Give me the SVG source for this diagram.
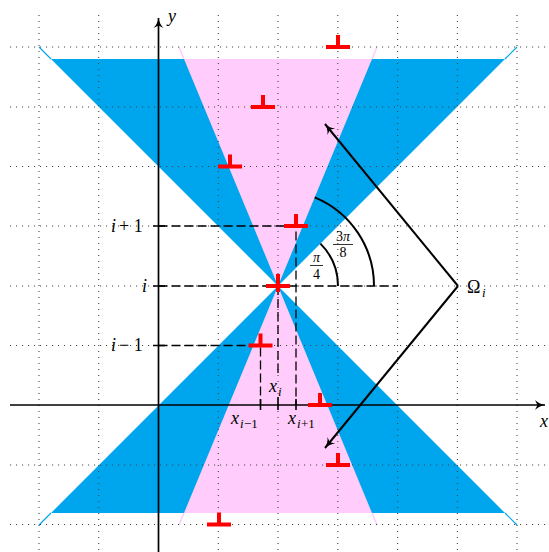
<svg xmlns="http://www.w3.org/2000/svg" width="549" height="552" viewBox="0 0 549 552">
<defs>
<style>
.grid{stroke:#444;stroke-width:1.1;stroke-dasharray:1.1 4.9;fill:none}
.axis{stroke:#000;stroke-width:1.7;fill:none}
.dash{stroke:#000;stroke-width:1.3;stroke-dasharray:9 4;fill:none}
.tick{stroke:#000;stroke-width:1.6}
.arc{stroke:#000;stroke-width:2;fill:none}
.om{stroke:#000;stroke-width:2;fill:none}
.m{font-family:"Liberation Serif",serif;font-style:italic;font-size:18px;fill:#000}
.r{font-family:"Liberation Serif",serif;font-size:18px;fill:#000}
.sub{font-size:13px}
.s{font-family:"Liberation Serif",serif;font-size:14px;fill:#000}
.blue{fill:#00a6ed}
.pink{fill:#ffccfb}
</style>
<marker id="ah" markerWidth="14" markerHeight="12" refX="10" refY="6" orient="auto" markerUnits="userSpaceOnUse">
<path d="M0,1 Q4,5 10,6 Q4,7 0,11 L2.5,6 Z" fill="#000"/>
</marker>
<g id="perp"><rect x="-12" y="-2" width="24" height="4" fill="#f00"/><rect x="-2" y="-12" width="4" height="12" fill="#f00"/></g>
</defs>

<g id="regions">
<path class="blue" d="M51,59 L505,59 L278,286 Z M51,513 L505,513 L278,286 Z"/>
<path d="M39,47 L51,59 M517,47 L505,59 M39,525 L51,513 M517,525 L505,513" stroke="#00a6ed" stroke-width="1.2"/>
<path class="pink" d="M184,59 L372,59 L278,286 Z M184,513 L372,513 L278,286 Z"/>
<path d="M179,47 L184,59 M377,47 L372,59 M179,525 L184,513 M377,525 L372,513" stroke="#ffccfb" stroke-width="1.5"/>
</g>

<g id="grid">
<path class="grid" d="M39,15 V552 M98.7,15 V552 M218.3,15 V552 M278,15 V552 M337.8,15 V552 M397.6,15 V552 M457.4,15 V552 M517,15 V552"/>
<path class="grid" d="M10,47 H549 M10,107 H549 M10,166.5 H549 M10,226 H549 M10,286 H549 M10,345.5 H549 M10,465 H549 M10,524.5 H549"/>
</g>

<g id="axes">
<line class="axis" x1="10" y1="405" x2="545" y2="405" marker-end="url(#ah)"/>
<line class="axis" x1="158.5" y1="552" x2="158.5" y2="18" marker-end="url(#ah)"/>
<text class="m" x="168" y="22">y</text>
<text class="m" x="540" y="427">x</text>
</g>

<g id="connectors">
<path class="dash" d="M158.5,226 H296 V405 M158.5,286 H398 M278,286 V377 M158.5,345.5 H260.5 V405"/>
<path class="tick" d="M153,226 H165 M153,286 H165 M153,345.5 H165 M260.5,399 V410 M278,397 V410 M296,399 V410"/>
<path class="arc" d="M320.4,243.6 A60,60 0 0 1 338,286"/>
<path class="arc" d="M314.7,197.3 A96,96 0 0 1 374,286"/>
<path class="om" d="M458,286 L325,124" marker-end="url(#ah)"/>
<path class="om" d="M458,286 L325,448" marker-end="url(#ah)"/>
</g>

<g id="labels">
<text class="m" x="111" y="232">i</text><text class="r" x="119" y="232">+ 1</text>
<text class="m" x="142" y="292">i</text>
<text class="m" x="111" y="351">i</text><text class="r" x="119" y="351">− 1</text>
<text class="m" x="231" y="424">x</text><text class="m sub" x="240" y="428">i</text><text class="r sub" x="244" y="428">−1</text>
<text class="m" x="269" y="392">x</text><text class="m sub" x="278" y="396">i</text>
<text class="m" x="288" y="424">x</text><text class="m sub" x="297" y="428">i</text><text class="r sub" x="301" y="428">+1</text>
<text class="r" x="467" y="293" font-size="20">Ω</text><text class="m sub" x="482" y="297">i</text>
<text class="s" x="316.5" y="262" text-anchor="middle" font-style="italic">π</text>
<line x1="310" y1="265.5" x2="323" y2="265.5" stroke="#000" stroke-width="0.8"/>
<text class="s" x="316.5" y="279" text-anchor="middle">4</text>
<text class="s" x="343" y="241" text-anchor="middle">3<tspan font-style="italic">π</tspan></text>
<line x1="333" y1="244.5" x2="353" y2="244.5" stroke="#000" stroke-width="0.8"/>
<text class="s" x="343" y="257" text-anchor="middle">8</text>
</g>

<g id="markers">
<use href="#perp" x="338" y="47"/>
<use href="#perp" x="263" y="107"/>
<use href="#perp" x="230" y="166.5"/>
<use href="#perp" x="296" y="226"/>
<g id="center"><rect x="266" y="284" width="24" height="4" fill="#f00"/><rect x="276" y="274" width="4" height="18" fill="#f00"/></g>
<use href="#perp" x="260.5" y="345.5"/>
<use href="#perp" x="320" y="405"/>
<use href="#perp" x="338" y="465"/>
<use href="#perp" x="219" y="524.5"/>
</g>
</svg>
